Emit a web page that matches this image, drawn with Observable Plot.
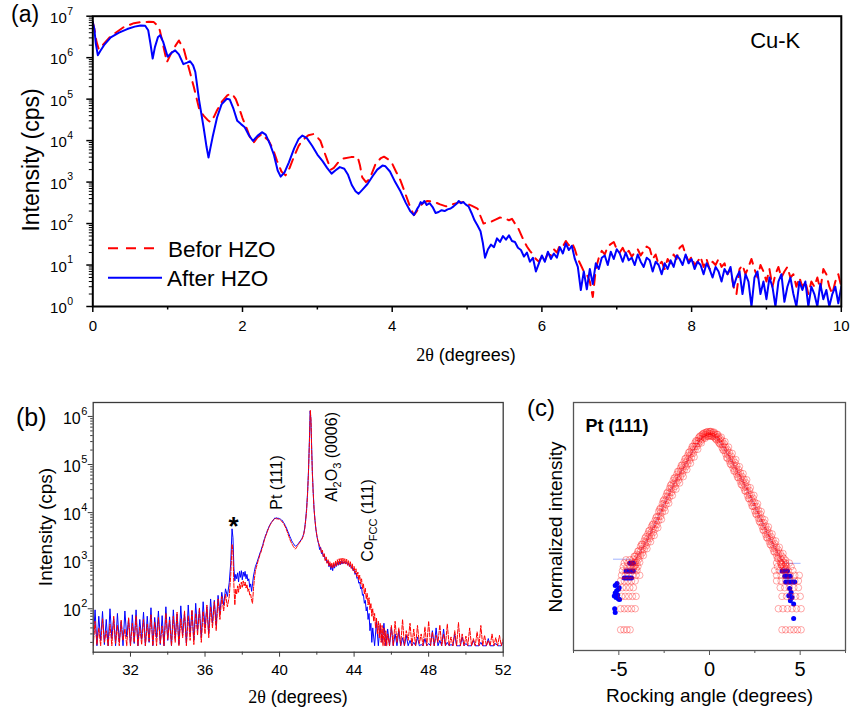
<!DOCTYPE html>
<html><head><meta charset="utf-8">
<script src="https://cdn.jsdelivr.net/npm/d3@7"></script>
<script src="https://cdn.jsdelivr.net/npm/@observablehq/plot@0.6"></script>
<style>
html,body{margin:0;padding:0;background:#fff;overflow:hidden;}
#fig{position:relative;width:852px;height:714px;background:#fff;}
</style></head><body><div id="fig"></div>
<script>
const fontSans = "'Liberation Sans', Arial, Helvetica, sans-serif";
const fontSerif = "'Liberation Serif', 'Times New Roman', serif";

// ================= Panel (a) data =================
const aAfterSmooth = [[0,7.2e6],[0.02,5.0e6],[0.04,2.2e6],[0.067,1.15e6],[0.1,1.45e6],[0.15,2.0e6],[0.24,3.1e6],[0.35,4.0e6],[0.46,4.9e6],[0.56,5.6e6],[0.64,6.0e6],[0.7,5.9e6],[0.74,4.6e6],[0.77,2.2e6],[0.8,9.5e5],[0.83,1.8e6],[0.87,3.1e6],[0.9,3.5e6],[0.94,2.4e6],[1.0,1.05e6],[1.05,1.3e6],[1.1,1.5e6],[1.15,1.2e6],[1.21,7.0e5],[1.26,7.6e5],[1.3,8.2e5],[1.34,6.5e5],[1.37,4.5e5],[1.42,9.5e4],[1.48,2.1e4],[1.52,7.0e3],[1.546,3.9e3],[1.57,6.5e3],[1.6,1.2e4],[1.66,3.6e4],[1.72,7.5e4],[1.79,1.02e5],[1.83,9.8e4],[1.88,5.8e4],[1.93,3.0e4],[1.98,2.5e4],[2.03,2.1e4],[2.08,1.4e4],[2.14,9.8e3],[2.2,1.3e4],[2.26,1.6e4],[2.31,1.4e4],[2.37,8.0e3],[2.42,4.5e3],[2.47,1.9e3],[2.51,1.35e3],[2.56,1.7e3],[2.62,3.0e3],[2.69,6.5e3],[2.75,1.1e4],[2.8,1.32e4],[2.86,1.15e4],[2.93,7.5e3],[3.0,4.6e3],[3.07,3.2e3],[3.13,2.2e3],[3.19,1.6e3],[3.24,1.9e3],[3.3,2.3e3],[3.36,2.1e3],[3.41,1.5e3],[3.46,8.5e2],[3.51,6.0e2],[3.55,5.2e2],[3.6,6.5e2],[3.67,9.0e2],[3.74,1.4e3],[3.8,2.0e3],[3.87,2.5e3],[3.91,2.4e3],[3.97,1.8e3],[4.04,1.0e3],[4.11,6.0e2],[4.18,3.2e2],[4.24,2.0e2],[4.29,1.6e2],[4.33,2.2e2],[4.36,2.7e2],[4.38,3.3e2],[4.4,3.0e2],[4.43,3.5e2],[4.46,2.8e2],[4.5,3.1e2],[4.54,2.5e2],[4.58,1.8e2],[4.62,1.9e2],[4.66,2.1e2],[4.7,2.0e2],[4.74,2.2e2],[4.78,2.3e2],[4.82,2.6e2],[4.86,3.0e2],[4.89,3.5e2],[4.92,3.1e2],[4.95,3.3e2],[4.98,2.9e2],[5.02,2.6e2],[5.06,1.8e2],[5.1,1.2e2],[5.14,9.0e1],[5.18,6.5e1],[5.21,3.5e1],[5.24,1.5e1]];
const aTailStep = 0.04;
const aAfterTailStart = 5.28;
const aAfterTail = [24,31,27,44,36,50,41,52,38,36,26,23,16,20,12,15,7,11,17,12,21,14,19,15,27,19,33,23,29,14,9,2.5,7,2.6,8,3.5,
  11,8,15,17,10,21,14,24,19,12,20,13,15,10,18,12,9,15,13,7,12,10,6,11,8,13,9,17,14,10,18,11,14,8,12,10,6,11,8,5,9,7,4,8,6,9,3,5,7,2,6,4,1,5,7,2,4,1.5,5,3,1,4,6,1.3,3,5,2,1,4,2.5,4,1,3,2,1,3.5,1.5,2.5,1,2,3,1.2,3];
const aBeforeSmooth = [[0,7.2e6],[0.02,5.0e6],[0.05,2.4e6],[0.08,1.6e6],[0.12,1.9e6],[0.24,3.3e6],[0.41,5.4e6],[0.55,6.8e6],[0.64,7.2e6],[0.75,7.3e6],[0.815,7.2e6],[0.86,6.0e6],[0.895,4.6e6],[0.94,2.0e6],[0.99,7.8e5],[1.04,1.2e6],[1.105,1.95e6],[1.15,2.6e6],[1.216,1.6e6],[1.28,5.9e5],[1.35,1.95e5],[1.42,5.9e4],[1.48,4.0e4],[1.53,3.2e4],[1.57,2.8e4],[1.62,3.8e4],[1.66,5.4e4],[1.73,9.0e4],[1.8,1.25e5],[1.86,1.35e5],[1.91,1.0e5],[1.95,6.5e4],[2.0,3.5e4],[2.06,1.9e4],[2.1,1.2e4],[2.15,9.0e3],[2.2,1.2e4],[2.26,1.45e4],[2.3,1.2e4],[2.35,1.0e4],[2.41,6.0e3],[2.46,3.3e3],[2.52,1.8e3],[2.575,1.45e3],[2.63,2.2e3],[2.685,4.0e3],[2.75,7.5e3],[2.8,1.0e4],[2.88,1.35e4],[2.955,1.45e4],[3.0,1.2e4],[3.04,1.0e4],[3.09,5.5e3],[3.135,3.3e3],[3.18,2.0e3],[3.22,2.2e3],[3.28,3.0e3],[3.35,3.7e3],[3.45,4.0e3],[3.54,4.0e3],[3.57,2.5e3],[3.6,1.3e3],[3.65,1.0e3],[3.7,1.2e3],[3.78,2.8e3],[3.85,3.8e3],[3.89,4.1e3],[3.95,3.5e3],[4.0,2.8e3],[4.05,1.8e3],[4.11,1.1e3],[4.18,5.0e2],[4.24,2.5e2],[4.29,1.6e2],[4.33,2.0e2],[4.36,2.5e2],[4.42,3.2e2],[4.47,3.5e2],[4.55,3.4e2],[4.64,2.9e2],[4.72,2.6e2],[4.8,2.9e2],[4.88,3.2e2],[4.95,3.3e2],[5.0,3.0e2],[5.06,2.7e2],[5.14,2.3e2],[5.18,1.5e2],[5.22,1.0e2],[5.26,1.05e2],[5.32,1.1e2],[5.38,1.25e2],[5.44,1.4e2],[5.5,1.35e2],[5.56,1.2e2],[5.6,1.3e2],[5.64,1.0e2],[5.68,8.0e1]];
const aBeforeTailStart = 5.72;
const aBeforeTail = [55,38,28,22,18,14,12,16,13,19,17,24,20,30,28,38,30,35,24,14,10,7,6,4,1.7,8,15,22,18,28,32,36,24,20,26,18,22,16,20,24,17,22,28,25,14,18,10,12,8,14,11,18,14,26,30,18,12,16,10,12,16,9,14,8,12,10,14,9,11,6,8,3,2,8,10,6,9,14,8,5,10,7,4,8,3,6,9,5,7,9,5,6,3,5,3,4,2,4,3,5,2.5,8,6,3,2,4,6,3];
const aXTicks = [0,2,4,6,8,10];
const aXMinor = [1,3,5,7,9];
const aYDecades = [1,10,100,1e3,1e4,1e5,1e6,1e7];
const aLegend = [{label:"Befor HZO", color:"#ff0000", dash:"10,8"},{label:"After HZO", color:"#0000ff", dash:null}];

// ================= Panel (b) data =================
const bLowStart = 30.0, bStep = 0.1;
const bBlueLow = [20,95,17,70,22,88,18,60,17,100,24,65,17,80,20,55,17,90,26,62,17,75,19,95,17,60,23,85,17,70,20,105,17,66,25,90,18,72,17,110,22,68,17,95,24,78,18,115,28,80,19,120,30,90,22,130,35,100,25,140,40,110,30,160,50,150,45,190,80,220,120,260,180];
const bBlueMid = [[37.3,350],[37.38,900],[37.45,4600],[37.5,3000],[37.55,700],[37.6,380],[37.65,520],[37.7,420],[37.75,560],[37.8,360],[37.85,600],[37.9,450],[37.95,620],[38.0,400],[38.05,580],[38.1,470],[38.15,600],[38.2,420],[38.25,520],[38.3,380],[38.35,420],[38.4,280],[38.45,330],[38.5,230],[38.55,330],[38.6,480],[38.65,600],[38.7,750],[38.8,950],[38.85,1100],[38.9,1250],[38.95,1450],[39.0,1600],[39.05,1900],[39.1,2100],[39.15,2600],[39.2,2900],[39.25,3400],[39.3,3700],[39.35,4300],[39.4,4700],[39.45,5300],[39.5,5700],[39.55,6200],[39.6,6500],[39.65,7000],[39.7,7300],[39.75,7800],[39.8,7500],[39.85,7900],[39.9,7300],[39.95,7700],[40.0,7500],[40.05,7300],[40.1,7000],[40.15,6900],[40.2,6300],[40.25,6000],[40.3,5400],[40.35,5000],[40.4,4500],[40.45,4000],[40.5,3600],[40.55,3200],[40.6,2900],[40.65,2600],[40.7,2400],[40.75,2250],[40.8,2100],[40.85,2000],[40.9,2050],[40.95,2150],[41.0,2250],[41.05,2400],[41.1,2550],[41.15,2700],[41.2,2900],[41.25,3200],[41.3,3700],[41.35,4800],[41.4,7000],[41.45,12000],[41.5,25000],[41.55,70000],[41.6,300000],[41.64,1.3e6],[41.68,9e5],[41.72,2.5e5],[41.76,70000],[41.8,30000],[41.85,12000],[41.9,7000],[41.95,4500],[42.0,3300],[42.05,2600],[42.1,2200],[42.15,1700],[42.2,1900],[42.25,1400],[42.3,1500],[42.35,1200],[42.4,1300],[42.45,1050],[42.5,1100],[42.55,900],[42.6,1000],[42.65,750],[42.7,850],[42.75,650],[42.8,800],[42.85,620],[42.9,850],[42.95,700],[43.0,880],[43.05,760],[43.1,920],[43.15,800],[43.2,950],[43.25,820],[43.3,980],[43.35,850],[43.4,960],[43.45,880],[43.5,950],[43.55,860],[43.6,920],[43.65,820],[43.7,880],[43.75,760],[43.8,820],[43.85,700],[43.9,740],[43.95,620],[44.0,640],[44.05,520],[44.1,560],[44.15,430],[44.2,450],[44.25,340],[44.3,360],[44.35,260],[44.4,280],[44.45,190],[44.5,200],[44.55,130],[44.6,150],[44.65,90],[44.7,110],[44.75,60],[44.8,80],[44.85,35],[44.9,50],[44.95,20],[45.0,40]];
const bBlueTailStart = 45.1;
const bBlueTail = [17,55,17,45,20,50,17,38,17,42,17,30,17,35,17,25,17,28,17,22,17,20,17,26,17,18,17,24,17,19,17,35,17,40,17,22,17,38,17,20,17,18,17,30,17,17,17,26,17,19,17,17,17,22,17,17,17,20,17,17,17,24,17,17,17,19,17,17,17,21];
const bRedLow = [17,55,18,40,17,62,20,35,17,48,17,70,19,45,17,58,22,38,17,65,17,50,20,72,17,42,18,60,17,48,21,75,17,52,17,66,19,44,17,80,23,58,17,70,20,85,17,62,25,90,17,72,22,95,18,80,28,105,20,88,30,120,25,110,40,140,35,160,60,180,90,200,110];
const bRedMid = [[37.3,180],[37.38,500],[37.45,2200],[37.5,1500],[37.55,300],[37.6,120],[37.65,260],[37.7,200],[37.75,300],[37.8,220],[37.85,330],[37.9,260],[37.95,360],[38.0,280],[38.05,380],[38.1,300],[38.15,360],[38.2,270],[38.25,320],[38.3,230],[38.35,260],[38.4,190],[38.45,200],[38.5,150],[38.55,130],[38.6,260],[38.65,420],[38.7,600],[38.75,720],[38.8,850],[38.85,1000],[38.9,1150],[38.95,1350],[39.0,1500],[39.05,1750],[39.1,2000],[39.15,2400],[39.2,2800],[39.25,3200],[39.3,3600],[39.35,4100],[39.4,4600],[39.45,5100],[39.5,5600],[39.55,6000],[39.6,6500],[39.65,6900],[39.7,7200],[39.75,7400],[39.8,7600],[39.85,7400],[39.9,7500],[39.95,7300],[40.0,7200],[40.05,7000],[40.1,6700],[40.15,6400],[40.2,6000],[40.25,5600],[40.3,5100],[40.35,4600],[40.4,4100],[40.45,3600],[40.5,3200],[40.55,2800],[40.6,2500],[40.65,2300],[40.7,2100],[40.75,1950],[40.8,1850],[40.85,1750],[40.9,1850],[40.95,2000],[41.0,2150],[41.05,2300],[41.1,2450],[41.15,2600],[41.2,2800],[41.25,3100],[41.3,3600],[41.35,4600],[41.4,6800],[41.45,11000],[41.5,23000],[41.55,65000],[41.6,280000],[41.65,1.35e6],[41.69,8e5],[41.72,2.2e5],[41.76,65000],[41.8,28000],[41.85,12000],[41.9,7000],[41.95,4600],[42.0,3400],[42.05,2700],[42.1,2300],[42.15,2000],[42.2,1900],[42.25,1450],[42.3,1650],[42.35,1200],[42.4,1400],[42.45,1000],[42.5,1200],[42.55,880],[42.6,1050],[42.65,780],[42.7,950],[42.75,720],[42.8,900],[42.85,700],[42.9,920],[42.95,730],[43.0,980],[43.05,770],[43.1,1050],[43.15,820],[43.2,1100],[43.25,840],[43.3,1120],[43.35,880],[43.4,1130],[43.45,870],[43.5,1100],[43.55,850],[43.6,1080],[43.65,800],[43.7,1000],[43.75,760],[43.8,950],[43.85,690],[43.9,860],[43.95,620],[44.0,760],[44.05,550],[44.1,680],[44.15,470],[44.2,580],[44.25,400],[44.3,500],[44.35,330],[44.4,420],[44.45,260],[44.5,330],[44.55,200],[44.6,270],[44.65,160],[44.7,210],[44.75,120],[44.8,170],[44.85,95],[44.9,130],[44.95,70],[45.0,100],[45.05,55],[45.1,80],[45.15,40],[45.2,65],[45.25,30],[45.3,55],[45.35,25],[45.4,50],[45.45,20],[45.5,45],[45.55,17],[45.6,40],[45.65,17],[45.7,35],[45.75,17],[45.8,30]];
const bRedTailStart = 45.9;
const bRedTail = [17,45,17,55,20,40,17,60,17,35,22,50,17,38,17,45,19,30,17,42,17,55,17,33,17,28,20,46,17,30,17,48,17,26,17,35,17,52,17,30,17,27,17,40,17,24,17,33,17,45,17,28,17,22,17,30,17,25,17,28,17,24];
const bXTicks = [32,36,40,44,48,52];
const bXMinor = [30,34,38,42,46,50];
const bYDecades = [1e2,1e3,1e4,1e5,1e6];
const bStar = [{x:37.53, y:5000, label:"*"}];
const bNotes = [
  {x:40.16, y:1.12e4, parts:[["Pt (111)",0]]},
  {x:43.11, y:1.65e4, parts:[["Al",0],["2",1],["O",0],["3",1],[" (0006)",0]]},
  {x:45.04, y:933, parts:[["Co",0],["FCC",1],[" (111)",0]]}
];

// ================= Panel (c) data =================
const cGridStart = -4.2, cGridStep = 0.1;
const cRedHi = [10.2,11.2,12.0,13.5,15.5,16.6,18.6,21.4,23.4,26.3,29.5,32.4,36.3,41.7,49,55,63,72.4,81,93,105,120,135,148,166,182,204,224,251,282,309,347,380,417,468,501,550,589,617,646,661,676,676,676,661,631,617,575,537,501,457,407,372,339,302,269,245,219,195,174,155,141,126,110,98,85,76,66,58,51,45,39,34,30,27,24,21.4,19,17,15.1,13.8,12.3,11.2,10.5,9.8];
const cRedMid = [8.9,9.5,10.5,11.7,13.2,14.5,16.2,18.2,20.4,22.9,25.1,28.2,31.6,36.3,41.7,47.9,55,63,70.8,81.3,91.2,105,117,129,145,158,178,195,219,245,269,302,331,372,417,457,501,537,575,603,617,631,631,631,617,589,562,525,490,447,407,363,324,295,263,234,214,191,170,151,135,123,110,95.5,85.1,74.1,66.1,57.5,50.1,44.7,38.9,33.9,29.5,26.3,23.4,20.9,18.6,16.6,14.8,13.2,12.0,10.7,9.8,9.1,8.5];
const cRedLo = [7.8,8.3,9.1,10.2,11.5,12.6,14.1,15.8,17.8,20,21.9,24.5,27.5,31.6,36.3,41.7,47.9,55,61.7,70.8,79.4,91,102,112,126,138,155,170,191,214,234,263,288,331,372,417,457,490,525,562,575,589,589,589,575,550,513,479,447,398,363,324,282,257,229,204,186,166,148,132,117,107,95,83,74,65,58,50,44,39,34,30,26,23,20.4,18.2,16.2,14.5,12.9,11.5,10.5,9.3,8.5,7.9,7.4];
const cScatterStart = -4.15;
const cRedScatter = [11.2,7.5,13.2,9.2,16.6,11.5,20.4,14.4,25.7,18.1,31.6,22.3,39.8,28.7,52.5,37.8,69.3,49.8,89.2,64.2,115,83,147,102,183,125,224,154,276,194,339,239,417,294,500,379,576,467,633,543,666,580,681,580,666,530,618,457,564,371,488,287,408,233,331,185,270,151,214,119,170,97,139,75.4,107,58.5,83.3,45.4,63.1,35.3,49,26.8,37.2,20.8,29.5,16.5,23.4,13.1,18.6,10.4,15.1,8.5,12.3,7.2];
const cRedTailRows = [
  {count:1, xs:[-4.9,-4.72,-4.55,-4.38, 4.0,4.2,4.45,4.65,4.85,5.05]},
  {count:2, xs:[-4.9,-4.7,-4.5,-4.3,-4.1, 3.8,4.05,4.3,4.55,4.8,5.05]},
  {count:3, xs:[-4.85,-4.65,-4.45,-4.25,-4.05, 4.0,4.25,4.5,4.75,5.0]},
  {count:4, xs:[-4.8,-4.6,-4.4,-4.2, 3.9,4.15,4.4,4.65,4.9]},
  {count:5, xs:[-4.9,-4.7,-4.5,-4.3,-4.1, 3.7,3.95,4.2,4.45,4.7,4.9]},
  {count:6, xs:[-4.85,-4.65,-4.45,-4.25,-4.05,-3.85, 3.7,3.95,4.2,4.45,4.7,4.95]},
  {count:7, xs:[-4.8,-4.6,-4.4,-4.2,-4.0, 3.6,3.85,4.1,4.35,4.6]},
  {count:8, xs:[-4.75,-4.55,-4.35,-4.15,-3.95, 3.75,4.0,4.25,4.5]},
  {count:9, xs:[-4.7,-4.5,-4.3,-4.1, 3.7,3.95,4.2,4.4]},
  {count:10, xs:[-4.6,-4.4]}
];
const cBlueSingles = [[-5.23,2.0],[-5.2,1.77],[-5.2,4.3],[-5.12,3.6],[-5.25,3.05],[-5.02,2.75],[-4.96,2.7],[-5.15,2.9],[-5.02,3.8],[-5.1,4.6],[-5.2,3.35],[-5.06,3.15],[-4.98,4.0],[4.64,1.45],[4.64,2.33],[4.46,2.6],[4.37,3.06],[4.5,3.4],[4.42,3.9],[4.55,2.9]];
const cBlueRows = [
  {count:5.5, xs:[-4.7,-4.6,-4.5,-4.4,-4.3]},
  {count:6.9, xs:[-4.6,-4.5,-4.4,-4.3,-4.2, 4.0,4.1,4.2,4.3]},
  {count:8.9, xs:[-4.4,-4.3,-4.2]},
  {count:4.8, xs:[4.2,4.3,4.4,4.5,4.6,4.7]},
  {count:5.8, xs:[4.15,4.25,4.35,4.45]}
];
const cBlueLine = [[-5.3,10.2],[-4.4,10.2],[-4.2,9.5],[-4.0,11],[-3.5,18],[-3.0,33],[-2.5,63],[-2.0,117],[-1.5,195],[-1.0,331],[-0.5,537],[0,631],[0.5,525],[1.0,324],[1.5,191],[2.0,110],[2.5,58],[3.0,30],[3.5,16.6],[4.0,9.8],[4.2,9.0],[4.4,8.9],[5.0,8.9]];
const cXTicks = [-5,0,5];
const cXMinor = [-7.5,-2.5,2.5,7.5];

// ================= helpers =================
const pts = arr => arr.map(([x,y]) => ({x, y}));
const grid = (start, step, ys) => ys.map((y,i) => ({x: +(start + i*step).toFixed(3), y}));
const minorLog = (lo, hi) => { const out=[]; for (let e=Math.floor(Math.log10(lo)); e<=Math.ceil(Math.log10(hi)); e++) for (let m=2;m<=9;m++){const v=m*Math.pow(10,e); if (v>=lo && v<=hi) out.push(v);} return out; };
const expOf = d => String(Math.round(Math.log10(d)));

const aAfter = pts(aAfterSmooth).concat(grid(aAfterTailStart, aTailStep, aAfterTail));
const aBefore = pts(aBeforeSmooth).concat(grid(aBeforeTailStart, aTailStep, aBeforeTail));
const bBlue = grid(bLowStart, bStep, bBlueLow).concat(pts(bBlueMid), grid(bBlueTailStart, bStep, bBlueTail));
const bRed = grid(bLowStart, bStep, bRedLow).concat(pts(bRedMid), grid(bRedTailStart, bStep, bRedTail));
const cRed = grid(cGridStart, cGridStep, cRedHi).concat(
  grid(cGridStart, cGridStep, cRedMid),
  grid(cGridStart, cGridStep, cRedLo),
  grid(cScatterStart, cGridStep, cRedScatter),
  cRedTailRows.flatMap(r => r.xs.map(x => ({x, y:r.count}))));
const cBlueDots = pts(cBlueSingles).concat(cBlueRows.flatMap(r => r.xs.map(x => ({x, y:r.count}))));

const baseStyle = {fontFamily: fontSans, color: "black", background: "transparent", overflow: "visible"};

// ================= Panel (a) =================
const plotA = Plot.plot({
  width: 852, height: 370,
  marginLeft: 92.3, marginRight: 11.2, marginTop: 15.7, marginBottom: 64,
  x: {domain: [0, 10], label: null},
  y: {type: "log", domain: [1, 1e7], label: null},
  style: {...baseStyle, fontSize: "15px"},
  marks: [
    Plot.line(aBefore, {x: "x", y: "y", stroke: "#ff0000", strokeWidth: 2, strokeDasharray: "10,7", clip: true}),
    Plot.line(aAfter, {x: "x", y: "y", stroke: "#0000ff", strokeWidth: 2, clip: true}),
    Plot.axisX({ticks: aXTicks, tickSize: 6, tickPadding: 8, strokeWidth: 1.5, fontSize: 15, label: null, tickFormat: d => String(d)}),
    Plot.axisX({ticks: aXMinor, tickSize: 3.5, strokeWidth: 1.5, label: null, tickFormat: () => ""}),
    Plot.axisY({ticks: aYDecades, tickSize: 6, strokeWidth: 1.5, label: null, tickFormat: () => ""}),
    Plot.axisY({ticks: minorLog(1, 1e7), tickSize: 3.5, strokeWidth: 1, label: null, tickFormat: () => ""}),
    Plot.text(aYDecades, {y: d => d, text: () => "10", frameAnchor: "left", textAnchor: "end", dx: -26, dy: 2, fontSize: 15}),
    Plot.text(aYDecades, {y: d => d, text: expOf, frameAnchor: "left", textAnchor: "start", dx: -25.5, dy: -5, fontSize: 10.5}),
    Plot.text(["Cu-K"], {text: d => d, frameAnchor: "top-right", lineAnchor: "middle", textAnchor: "end", dx: -41, dy: 25, fontSize: 22}),
    Plot.frame({stroke: "black", strokeWidth: 2})
  ]
});

// ================= Panel (b) =================
const bStroke = "#3a3a3a";
const plotB = Plot.plot({
  width: 520, height: 334,
  marginLeft: 92.7, marginRight: 17.3, marginTop: 22, marginBottom: 62.3,
  x: {domain: [30, 52], label: null},
  y: {type: "log", domain: [12.5, 1.95e6], label: null},
  style: {...baseStyle, fontSize: "15px"},
  marks: [
    Plot.line(bBlue, {x: "x", y: "y", stroke: "#0000ff", strokeWidth: 1, clip: true}),
    Plot.line(bRed, {x: "x", y: "y", stroke: "#ff0000", strokeWidth: 1, strokeDasharray: "4,1.5", clip: true}),
    Plot.frame({stroke: bStroke, strokeWidth: 1.3}),
    Plot.axisX({ticks: bXTicks, tickSize: 5, tickPadding: 7, stroke: bStroke, fontSize: 15, label: null, tickFormat: d => String(d)}),
    Plot.axisX({ticks: bXMinor, tickSize: 3, stroke: bStroke, label: null, tickFormat: () => ""}),
    Plot.axisY({ticks: bYDecades, tickSize: 5, stroke: bStroke, label: null, tickFormat: () => ""}),
    Plot.axisY({ticks: minorLog(12.5, 1.95e6), tickSize: 2.5, stroke: bStroke, label: null, tickFormat: () => ""}),
    Plot.text(bYDecades, {y: d => d, text: () => "10", frameAnchor: "left", textAnchor: "end", dx: -12.5, dy: 2, fontSize: 16}),
    Plot.text(bYDecades, {y: d => d, text: expOf, frameAnchor: "left", textAnchor: "start", dx: -12, dy: -5, fontSize: 11}),
    Plot.text(bStar, {x: "x", y: "y", text: "label", fontSize: 26, fontWeight: "bold"})
  ]
});
{
  const sx = plotB.scale("x"), sy = plotB.scale("y");
  const sel = d3.select(plotB);
  for (const n of bNotes) {
    const t = sel.append("text")
      .attr("transform", `translate(${sx.apply(n.x)},${sy.apply(n.y)}) rotate(-90)`)
      .attr("text-anchor", "start")
      .attr("font-size", 16).attr("fill", "black").attr("font-family", fontSans)
      .style("white-space", "pre");
    let shifted = false;
    for (const [s, sub] of n.parts) {
      const ts = t.append("tspan").text(s);
      if (sub) { ts.attr("font-size", 11); if (!shifted) { ts.attr("dy", 4); shifted = true; } }
      else if (shifted) { ts.attr("dy", -4); shifted = false; }
    }
  }
}

// ================= Panel (c) =================
const cStroke = "#555";
const plotC = Plot.plot({
  width: 332, height: 334,
  marginLeft: 53, marginRight: 7, marginTop: 22, marginBottom: 64,
  x: {domain: [-7.5, 7.5], label: null},
  y: {type: "log", domain: [0.506, 1766], axis: null},
  style: {...baseStyle, fontSize: "20px"},
  marks: [
    Plot.line(pts(cBlueLine), {x: "x", y: "y", stroke: "#4466ff", strokeWidth: 0.7, strokeOpacity: 0.7}),
    Plot.dot(cBlueDots, {x: "x", y: "y", r: 2.5, fill: "#0000ff", stroke: "none"}),
    Plot.dot(cRed, {x: "x", y: "y", r: 3.3, fill: "none", stroke: "#ff0000", strokeOpacity: 0.38, strokeWidth: 0.9}),
    Plot.frame({stroke: cStroke, strokeWidth: 1.3}),
    Plot.axisX({ticks: cXTicks, tickSize: 5, tickPadding: 6, stroke: cStroke, fontSize: 20, label: null, tickFormat: d => String(d)}),
    Plot.axisX({ticks: cXMinor, tickSize: 3, stroke: cStroke, label: null, tickFormat: () => ""}),
    Plot.text(["Pt (111)"], {text: d => d, frameAnchor: "top-left", lineAnchor: "middle", textAnchor: "start", dx: 12, dy: 23.5, fontSize: 18, fontWeight: "bold"})
  ]
});

// ================= assemble =================
const fig = document.getElementById("fig");
function place(node, left, top) {
  node.style.position = "absolute"; node.style.left = left + "px"; node.style.top = top + "px";
  fig.appendChild(node);
}
place(plotA, 0, 0);
place(plotB, 0, 380);
place(plotC, 520, 380);

const ov = d3.select(fig).append("svg")
  .attr("width", 852).attr("height", 714)
  .style("position", "absolute").style("left", "0px").style("top", "0px")
  .style("pointer-events", "none").style("overflow", "visible")
  .attr("font-family", fontSans).attr("fill", "black");

// panel tags
ov.append("text").attr("x", 11).attr("y", 22).attr("font-size", 23).text("(a)");
ov.append("text").attr("x", 16).attr("y", 426).attr("font-size", 25).text("(b)");
ov.append("text").attr("x", 527).attr("y", 416).attr("font-size", 24).text("(c)");

// axis labels
function rotLabel(x, y, size, str) {
  ov.append("text").attr("transform", `translate(${x},${y}) rotate(-90)`)
    .attr("text-anchor", "middle").attr("font-size", size).text(str);
}
function thetaLabel(x, y, size) {
  const t = ov.append("text").attr("x", x).attr("y", y).attr("text-anchor", "middle").attr("font-size", size).style("white-space", "pre");
  t.append("tspan").attr("font-family", fontSerif).text("2θ");
  t.append("tspan").text(" (degrees)");
}
rotLabel(39, 160, 23, "Intensity (cps)");
thetaLabel(466, 361, 18);
rotLabel(52, 527, 19, "Intensity (cps)");
thetaLabel(298, 703, 18);
rotLabel(562, 527, 19, "Normalized intensity");
ov.append("text").attr("x", 709.5).attr("y", 702).attr("text-anchor", "middle").attr("font-size", 19).text("Rocking angle (degrees)");

// legend (a)
aLegend.forEach((d, i) => {
  const y = 248.3 + i * 29.5;
  const ln = ov.append("line").attr("x1", 108).attr("x2", i === 0 ? 155 : 162).attr("y1", y).attr("y2", y)
    .attr("stroke", d.color).attr("stroke-width", 2);
  if (d.dash) ln.attr("stroke-dasharray", d.dash);
  ov.append("text").attr("x", i === 0 ? 168 : 167).attr("y", y + 8.3).attr("font-size", 22.5).text(d.label);
});
</script></body></html>
